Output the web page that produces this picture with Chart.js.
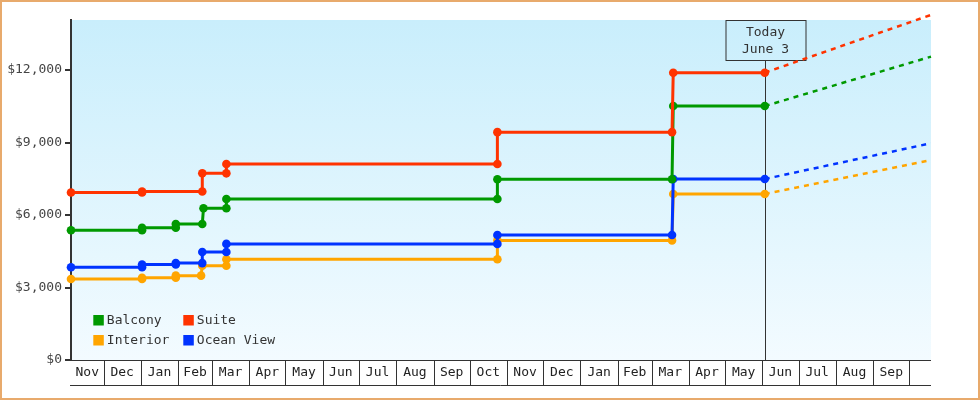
<!DOCTYPE html>
<html><head><meta charset="utf-8">
<script src="https://cdn.jsdelivr.net/npm/chart.js@4.4.0/dist/chart.umd.min.js"></script>
<style>
html,body{margin:0;padding:0;background:#fff;}
#wrap{position:relative;width:980px;height:400px;overflow:hidden;}
#frame{position:absolute;left:0;top:0;width:980px;height:400px;box-sizing:border-box;border:2px solid #e8aa6c;pointer-events:none;}
canvas{position:absolute;left:0;top:0;}
</style></head><body>
<div id="wrap"><canvas id="c" width="980" height="400"></canvas><div id="frame"></div></div>
<script>
// ---- data ----
const seriesNames = ['Balcony', 'Suite', 'Interior', 'Ocean View'];
const seriesColors = ['#009900', '#ff3300', '#ffa500', '#0033ff'];

const suiteDates = ['2013-11-04','2014-01-02','2014-01-02','2014-02-21','2014-02-21','2014-03-13','2014-03-13','2014-10-24','2014-10-24','2015-03-18','2015-03-19','2015-06-03'];
const suiteValues = [6930, 6930, 6975, 6975, 7725, 7725, 8110, 8110, 9430, 9430, 11890, 11890];

const balconyDates = ['2013-11-04','2014-01-02','2014-01-02','2014-01-30','2014-01-30','2014-02-21','2014-02-22','2014-03-13','2014-03-13','2014-10-24','2014-10-24','2015-03-18','2015-03-19','2015-06-03'];
const balconyValues = [5370, 5370, 5475, 5475, 5625, 5625, 6280, 6280, 6660, 6660, 7480, 7480, 10510, 10510];

const oceanDates = ['2013-11-04','2014-01-02','2014-01-02','2014-01-30','2014-01-30','2014-02-21','2014-02-21','2014-03-13','2014-03-13','2014-10-24','2014-10-24','2015-03-18','2015-03-19','2015-06-03'];
const oceanValues = [3840, 3840, 3955, 3955, 4010, 4010, 4470, 4470, 4805, 4805, 5170, 5170, 7490, 7490];

const interiorDates = ['2013-11-04','2014-01-02','2014-01-02','2014-01-30','2014-01-30','2014-02-20','2014-02-21','2014-03-13','2014-03-13','2014-10-24','2014-10-24','2015-03-18','2015-03-19','2015-06-03'];
const interiorValues = [3350, 3350, 3405, 3405, 3490, 3490, 3900, 3900, 4170, 4170, 4950, 4950, 6870, 6870];

// projections from today to end of axis
const projDates = ['2015-06-03', '2015-10-19'];
const suiteProj = [11890, 14280];
const balconyProj = [10510, 12555];
const interiorProj = [6870, 8270];
const oceanProj = [7490, 8970];

const todayDate = '2015-06-03';
const todayLabel = ['Today', 'June 3'];

const xStartDate = '2013-11-04';
const xEndDate = '2015-10-19';
const monthLabels = ['Nov','Dec','Jan','Feb','Mar','Apr','May','Jun','Jul','Aug','Sep','Oct','Nov','Dec','Jan','Feb','Mar','Apr','May','Jun','Jul','Aug','Sep','Oct'];
const firstMonth = [2013, 10]; // Nov 2013 (0-based month)

const yTickValues = [0, 3000, 6000, 9000, 12000];
const yTickLabels = ['$0', '$3,000', '$6,000', '$9,000', '$12,000'];
const yMax = 14070;

// ---- helpers ----
const DAY = 86400000;
const dayOf = s => Date.parse(s) / DAY;
const pts = (dates, vals) => dates.map((d, i) => ({ x: dayOf(d), y: vals[i] }));
const FONT = '"DejaVu Sans Mono", "Liberation Mono", monospace';
const TXT = '#333333';

function mainDs(name, color, dates, vals, order) {
  return {
    label: name, data: pts(dates, vals), borderColor: color, backgroundColor: color,
    pointBackgroundColor: color, pointBorderWidth: 0, pointRadius: 4.3, borderWidth: 3,
    tension: 0, fill: false, clip: false, order: order
  };
}
function projDs(name, color, vals, order) {
  return {
    label: name + ' projection', data: pts(projDates, vals), borderColor: color,
    borderWidth: 2.5, borderDash: [5, 5], pointRadius: 0, tension: 0, fill: false,
    clip: false, order: order
  };
}

const bgPlugin = {
  id: 'bg',
  beforeDraw(chart) {
    const { ctx, chartArea: a } = chart;
    const g = ctx.createLinearGradient(0, a.top, 0, a.bottom);
    g.addColorStop(0, '#c9eefc');
    g.addColorStop(1, '#f3fbff');
    ctx.save();
    ctx.fillStyle = g;
    ctx.fillRect(a.left, a.top, a.right - a.left, a.bottom - a.top);
    ctx.restore();
  }
};

const todayPlugin = {
  id: 'today',
  beforeDatasetsDraw(chart) {
    const { ctx, chartArea: a, scales } = chart;
    const x = Math.round(scales.x.getPixelForValue(dayOf(todayDate))) + 0.5;
    const bw = 80, bh = 40;
    const top = a.top;
    ctx.save();
    ctx.strokeStyle = TXT;
    ctx.lineWidth = 1;
    ctx.beginPath();
    ctx.moveTo(x, top + bh);
    ctx.lineTo(x, a.bottom);
    ctx.stroke();
    ctx.strokeRect(Math.round(x - bw / 2), top + 0.5, bw, bh);
    ctx.fillStyle = TXT;
    ctx.font = '13px ' + FONT;
    ctx.textAlign = 'center';
    ctx.textBaseline = 'middle';
    ctx.fillText(todayLabel[0], x, top + 13);
    ctx.fillText(todayLabel[1], x, top + 30);
    ctx.restore();
  }
};

const axisLegendPlugin = {
  id: 'axislegend',
  afterDraw(chart) {
    const { ctx, chartArea: a, scales } = chart;
    const xs = scales.x;
    ctx.save();
    ctx.strokeStyle = TXT;
    ctx.lineWidth = 1;
    const yTop = a.bottom + 0.5, yBot = a.bottom + 25.5;
    ctx.beginPath();
    ctx.moveTo(a.left, yTop); ctx.lineTo(a.right, yTop);
    ctx.moveTo(a.left - 1, yBot); ctx.lineTo(a.right, yBot);
    ctx.stroke();
    ctx.font = '13px ' + FONT;
    ctx.fillStyle = '#222';
    ctx.textAlign = 'center';
    ctx.textBaseline = 'middle';
    const xmin = dayOf(xStartDate), xmax = dayOf(xEndDate);
    for (let i = 0; i < monthLabels.length; i++) {
      const s = Date.UTC(firstMonth[0], firstMonth[1] + i, 1) / DAY;
      const e = Date.UTC(firstMonth[0], firstMonth[1] + i + 1, 1) / DAY;
      const s2 = Math.max(s, xmin), e2 = Math.min(e, xmax);
      if (e2 <= s2) continue;
      const px0 = xs.getPixelForValue(s2), px1 = xs.getPixelForValue(e2);
      if (s > xmin) {
        const bx = Math.round(px0) + 0.5;
        ctx.beginPath(); ctx.moveTo(bx, yTop); ctx.lineTo(bx, yBot); ctx.stroke();
      }
      const w = ctx.measureText(monthLabels[i]).width;
      if (px1 - px0 >= w + 4) ctx.fillText(monthLabels[i], (px0 + px1) / 2, a.bottom + 13);
    }
    // legend (2 x 2 grid inside plot, bottom-left)
    const cols = [a.left + 22.3, a.left + 112.3];
    const rows = [a.bottom - 45, a.bottom - 25];
    const grid = [[0, 0], [1, 0], [0, 1], [1, 1]];
    ctx.textAlign = 'left';
    seriesNames.forEach((n, i) => {
      const [c, r] = grid[i];
      ctx.fillStyle = seriesColors[i];
      ctx.fillRect(cols[c], rows[r], 10.5, 10.5);
      ctx.fillStyle = TXT;
      ctx.fillText(n, cols[c] + 13.5, rows[r] + 5.8);
    });
    ctx.restore();
  }
};

new Chart(document.getElementById('c'), {
  type: 'line',
  data: {
    datasets: [
      mainDs(seriesNames[1], seriesColors[1], suiteDates, suiteValues, 1),
      mainDs(seriesNames[0], seriesColors[0], balconyDates, balconyValues, 2),
      mainDs(seriesNames[3], seriesColors[3], oceanDates, oceanValues, 3),
      mainDs(seriesNames[2], seriesColors[2], interiorDates, interiorValues, 4),
      projDs(seriesNames[1], seriesColors[1], suiteProj, 5),
      projDs(seriesNames[0], seriesColors[0], balconyProj, 6),
      projDs(seriesNames[3], seriesColors[3], oceanProj, 7),
      projDs(seriesNames[2], seriesColors[2], interiorProj, 8)
    ]
  },
  options: {
    responsive: false,
    animation: false,
    devicePixelRatio: 1,
    layout: { padding: { left: 0, top: 20, right: 49, bottom: 40 } },
    plugins: { legend: { display: false }, tooltip: { enabled: false } },
    scales: {
      x: { type: 'linear', display: false, min: dayOf(xStartDate), max: dayOf(xEndDate) },
      y: {
        min: 0, max: yMax,
        afterBuildTicks: s => { s.ticks = yTickValues.map(v => ({ value: v })); },
        afterFit: s => { s.width = 71; },
        ticks: {
          callback: (v, i) => yTickLabels[i],
          color: '#444', padding: 3,
          font: { family: FONT, size: 13 }
        },
        grid: { drawOnChartArea: false, drawTicks: true, tickLength: 6, color: TXT, lineWidth: 2 },
        border: { color: TXT, width: 2 }
      }
    }
  },
  plugins: [bgPlugin, todayPlugin, axisLegendPlugin]
});
</script>
</body></html>
